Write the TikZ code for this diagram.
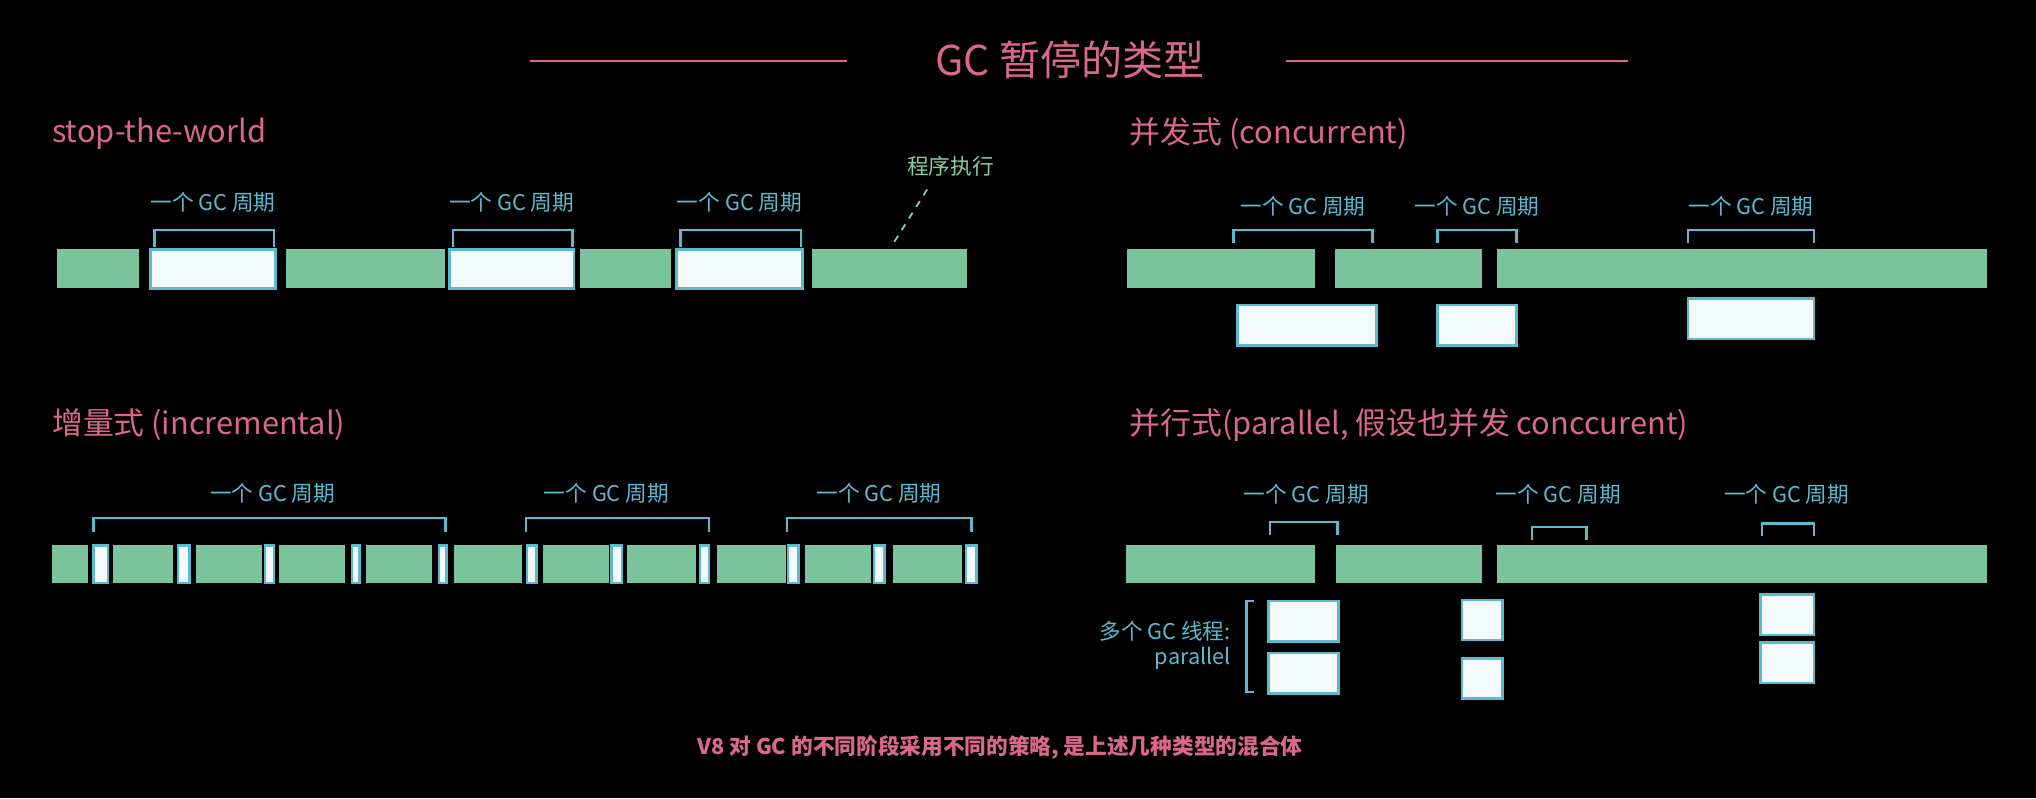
\documentclass[tikz,border=0pt]{standalone}
\usepackage{fontspec}
\setmainfont{Noto Sans CJK SC}
\definecolor{gcpink}{HTML}{D9688A}
\definecolor{gcgreen}{HTML}{7BC49B}
\definecolor{gccyan}{HTML}{5BB9D0}
\definecolor{gcwhite}{HTML}{F4F9FB}
\definecolor{runtext}{HTML}{8CCBA0}
\tikzset{
  run/.style={fill=gcgreen},
  pause/.style={fill=gcwhite, draw=gccyan, line width=1.1pt},
  cycle/.style={draw=gccyan, line width=1.1pt},
  cyclelabel/.style={text=gccyan, font=\fontsize{9.5}{11}\selectfont},
  heading/.style={text=gcpink, anchor=west, font=\fontsize{13.5}{16}\selectfont},
}
\begin{document}
\begin{tikzpicture}[x=0.02cm, y=-0.02cm]
  \fill[black] (0,0) rectangle (1568,614.6);
  \useasboundingbox (0,0) rectangle (1568,614.6);

  % title
  \node[text=gcpink, font=\fontsize{18}{22}\selectfont] (title) at (824,46) {GC 暂停的类型};
  \draw[gcpink, line width=1.2pt] (408,47) -- (652,47);
  \draw[gcpink, line width=1.2pt] (990,47) -- (1254,47);

  \node[heading] (stw) at (34,103) {stop-the-world};
  \node[heading] (conc) at (864,103) {并发式 (concurrent)};
  \node[heading] (incr) at (34,327) {增量式 (incremental)};
  \node[heading] (para) at (864,327) {并行式(parallel, 假设也并发 conccurent)};

  % stop-the-world
  \foreach \a/\b in {44/107, 220/343, 447/517, 625/745}
  {  \fill[run] (\a,192) rectangle (\b,222);
  }
  \foreach \a/\b in {116/212, 346/442, 521/618}
  {  \draw[pause] (\a,192) rectangle (\b,222);
     \draw[cycle] (\a+3,190) -- (\a+3,177) -- (\b-1,177) -- (\b-1,190);
     \node[cyclelabel] at ({(\a+\b)/2},156) {一个 GC 周期};
  }
  \node[text=runtext, font=\fontsize{9.5}{11}\selectfont] (exec) at (732,128) {程序执行};
  \coordinate (execend) at (687,189);
  \draw[runtext, dashed, line width=0.8pt] (exec.south) ++(-18,4) -- (execend);

  % concurrent
  \foreach \a/\b in {868/1013, 1028/1141, 1153/1530}
  {  \fill[run] (\a,192) rectangle (\b,222);
  }
  \foreach \a/\b/\t in {953/1060/235, 1107/1168/235, 1300/1397/230}
  {  \draw[pause] (\a,\t) rectangle (\b,\t+31);
  }
  \foreach \a/\b in {950/1057, 1107/1168, 1300/1397}
  {  \draw[cycle] (\a,187) -- (\a,177) -- (\b,177) -- (\b,187);
     \node[cyclelabel] at ({(\a+\b)/2},159) {一个 GC 周期};
  }

  % incremental
  \foreach \a/\b in {40/68, 87/133, 151/202, 215/266, 282/333, 350/402, 418/469, 483/536, 552/605, 620/671, 688/741}
  {  \fill[run] (\a,420) rectangle (\b,449);
  }
  \foreach \a/\b in {72/83, 137/146, 204/211, 271/277, 338/344, 406/413, 471/479, 539/546, 607/615, 673/681, 744/752}
  {  \draw[pause] (\a,420) rectangle (\b,449);
  }
  \foreach \a/\b in {72/343, 405/546, 606/748}
  {  \draw[cycle] (\a,410) -- (\a,399) -- (\b,399) -- (\b,410);
  }
  \foreach \x in {210, 467, 677}
  {  \node[cyclelabel] at (\x,380) {一个 GC 周期};
  }

  % parallel
  \foreach \a/\b in {867/1013, 1029/1141, 1153/1530}
  {  \fill[run] (\a,420) rectangle (\b,449);
  }
  \foreach \a/\b/\t in {978/1030/402, 1180/1222/406, 1357/1397/403}
  {  \draw[cycle] (\a,\t+10) -- (\a,\t) -- (\b,\t) -- (\b,\t+10);
  }
  \foreach \x in {1006, 1200, 1376}
  {  \node[cyclelabel] at (\x,381) {一个 GC 周期};
  }
  \foreach \a/\b/\t in {977/1031/463, 977/1031/503, 1126/1157/462, 1126/1157/507, 1356/1397/458, 1356/1397/495}
  {  \draw[pause] (\a,\t) rectangle (\b,\t+31);
  }
  \draw[cycle] (966,463) -- (960,463) -- (960,533) -- (966,533);
  \node[cyclelabel, anchor=east, align=right] (threads) at (954,497) {多个 GC 线程:\\parallel};

  % footer
  \node[text=gcpink, font=\fontsize{9.5}{11}\bfseries\selectfont] (note) at (770,576) {V8 对 GC 的不同阶段采用不同的策略, 是上述几种类型的混合体};
\end{tikzpicture}
\end{document}
